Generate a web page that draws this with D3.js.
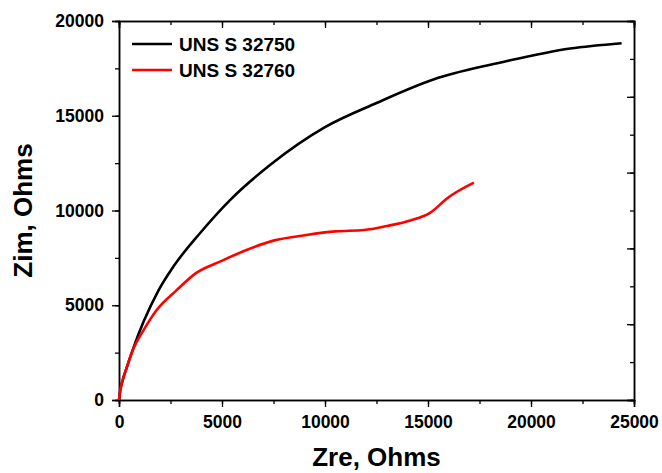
<!DOCTYPE html>
<html>
<head>
<meta charset="utf-8">
<script src="https://cdn.jsdelivr.net/npm/d3@7"></script>
<style>
  body { margin: 0; background: #fff; }
  text { font-family: Arial, "Liberation Sans", sans-serif; font-weight: bold; fill: #000; }
</style>
</head>
<body>
<svg width="662" height="473"></svg>
<script>
// Zre / Zim pairs (Ohms)
var series1Name = "UNS S 32750";
var series1 = [
  [0, 0], [60, 500], [180, 1050], [370, 1700], [700, 2750], [1200, 4150],
  [1900, 5750], [2640, 7040], [3930, 8800], [5390, 10550], [7330, 12400],
  [10000, 14400], [12500, 15670], [15500, 17000], [18650, 17840],
  [21900, 18550], [24400, 18830]
];

var series2Name = "UNS S 32760";
var series2 = [
  [0, 0], [60, 500], [180, 1050], [370, 1700], [680, 2650], [1200, 3700],
  [1830, 4750], [2800, 5800], [3770, 6720], [4900, 7300], [6100, 7880],
  [7500, 8410], [9100, 8710], [10500, 8900], [11900, 8970], [13000, 9180],
  [14100, 9460], [15100, 9880], [16000, 10700], [17230, 11470]
];

var xTicks = [0, 5000, 10000, 15000, 20000, 25000];
var yTicks = [0, 5000, 10000, 15000, 20000];

var svg = d3.select("svg"),
    margin = {top: 21, right: 28, bottom: 73, left: 119},
    width = 662 - margin.left - margin.right,
    height = 473 - margin.top - margin.bottom;

var x = d3.scaleLinear().domain([0, 25000]).range([0, width]);
var y = d3.scaleLinear().domain([0, 20000]).range([height, 0]);

var g = svg.append("g")
    .attr("transform", "translate(" + margin.left + "," + margin.top + ")");

function styleAxis(sel) {
  sel.select(".domain").attr("stroke-width", 1.5);
  sel.selectAll(".tick line").attr("stroke-width", 1.3);
  sel.selectAll("text").style("font-size", "17.5px");
}

// minor ticks first, then major with labels
g.append("g")
    .attr("transform", "translate(0," + height + ")")
    .call(d3.axisBottom(x).tickValues(d3.range(0, 25001, 2500)).tickSize(4).tickFormat(""))
    .call(styleAxis);
g.append("g")
    .attr("transform", "translate(0," + height + ")")
    .call(d3.axisBottom(x).tickValues(xTicks).tickSize(7).tickPadding(9).tickFormat(d3.format("d")))
    .call(styleAxis);

g.append("g")
    .call(d3.axisLeft(y).tickValues(d3.range(0, 20001, 2500)).tickSize(4).tickFormat(""))
    .call(styleAxis);
g.append("g")
    .call(d3.axisLeft(y).tickValues(yTicks).tickSize(7).tickPadding(8).tickFormat(d3.format("d")))
    .call(styleAxis);

// top axis, ticks pointing in
g.append("g")
    .call(d3.axisTop(x).tickValues(d3.range(0, 25001, 2500)).tickSize(-4).tickFormat(""))
    .call(styleAxis);
g.append("g")
    .call(d3.axisTop(x).tickValues(xTicks).tickSize(-7).tickFormat(""))
    .call(styleAxis);

// right axis, ticks pointing in, every 2000
g.append("g")
    .attr("transform", "translate(" + width + ",0)")
    .call(d3.axisRight(y).tickValues(d3.range(0, 20001, 2000)).tickSize(-4).tickFormat(""))
    .call(styleAxis);
g.append("g")
    .attr("transform", "translate(" + width + ",0)")
    .call(d3.axisRight(y).tickValues(d3.range(0, 20001, 4000)).tickSize(-7).tickFormat(""))
    .call(styleAxis);

var line = d3.line()
    .x(function(d) { return x(d[0]); })
    .y(function(d) { return y(d[1]); })
    .curve(d3.curveMonotoneX);

g.append("path")
    .datum(series1)
    .attr("fill", "none")
    .attr("stroke", "#000")
    .attr("stroke-width", 2.6)
    .attr("d", line);

g.append("path")
    .datum(series2)
    .attr("fill", "none")
    .attr("stroke", "#ff0000")
    .attr("stroke-width", 2.6)
    .attr("d", line);

// legend
var legend = g.append("g").attr("transform", "translate(13,23)");
[[series1Name, "#000"], [series2Name, "#ff0000"]].forEach(function(d, i) {
  legend.append("line")
      .attr("x1", 0).attr("x2", 40)
      .attr("y1", i * 26).attr("y2", i * 26)
      .attr("stroke", d[1])
      .attr("stroke-width", 2.6);
  legend.append("text")
      .attr("x", 47)
      .attr("y", i * 26 + 7)
      .style("font-size", "19px")
      .text(d[0]);
});

// axis titles
svg.append("text")
    .attr("x", margin.left + width / 2)
    .attr("y", 466)
    .attr("text-anchor", "middle")
    .style("font-size", "26px")
    .text("Zre, Ohms");

svg.append("text")
    .attr("transform", "translate(32," + (margin.top + height / 2) + ") rotate(-90)")
    .attr("text-anchor", "middle")
    .style("font-size", "26px")
    .text("Zim, Ohms");
</script>
</body>
</html>
